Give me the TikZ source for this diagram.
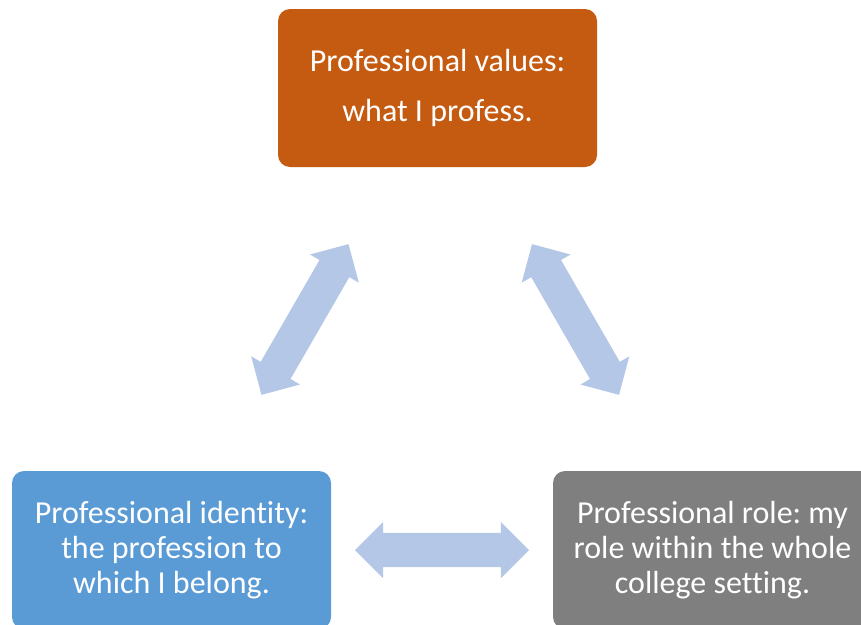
\documentclass[tikz,border=0pt]{standalone}
\usepackage{fontspec}
\setmainfont{Carlito}[RawFeature=-liga]
\usetikzlibrary{shapes.arrows}
\definecolor{orangebox}{HTML}{C55A11}
\definecolor{bluebox}{HTML}{5B9BD5}
\definecolor{graybox}{HTML}{7F7F7F}
\definecolor{arrowblue}{HTML}{B4C7E7}
\frenchspacing
\begin{document}
\begin{tikzpicture}[x=1pt,y=-1pt,
  boxstyle/.style={rounded corners=12pt, minimum width=319pt, minimum height=158pt,
    text=white, align=center, inner sep=0pt, font=\fontsize{32}{35}\selectfont},
  linkarrow/.style={double arrow, fill=arrowblue, draw=none, minimum height=174pt,
    double arrow head extend=11pt, inner xsep=0pt, inner ysep=17pt}]
\useasboundingbox (0,0) rectangle (861,624);
\clip (0,0) rectangle (861,624);
\node[boxstyle, fill=orangebox, font=\fontsize{32}{50}\selectfont] (values) at (437.5,88)
  {Professional values:\\what I profess.};
\node[boxstyle, fill=bluebox] (identity) at (171.5,550)
  {Professional identity:\\the profession to\\which I belong.};
\node[boxstyle, fill=graybox] (role) at (712.5,550)
  {Professional role: my\\role within the whole\\college setting.};
\node[linkarrow, rotate=60] (leftlink) at (305,319.5) {};
\node[linkarrow, rotate=120] (rightlink) at (575.5,319.5) {};
\node[linkarrow] (bottomlink) at (442,550) {};
\end{tikzpicture}
\end{document}
